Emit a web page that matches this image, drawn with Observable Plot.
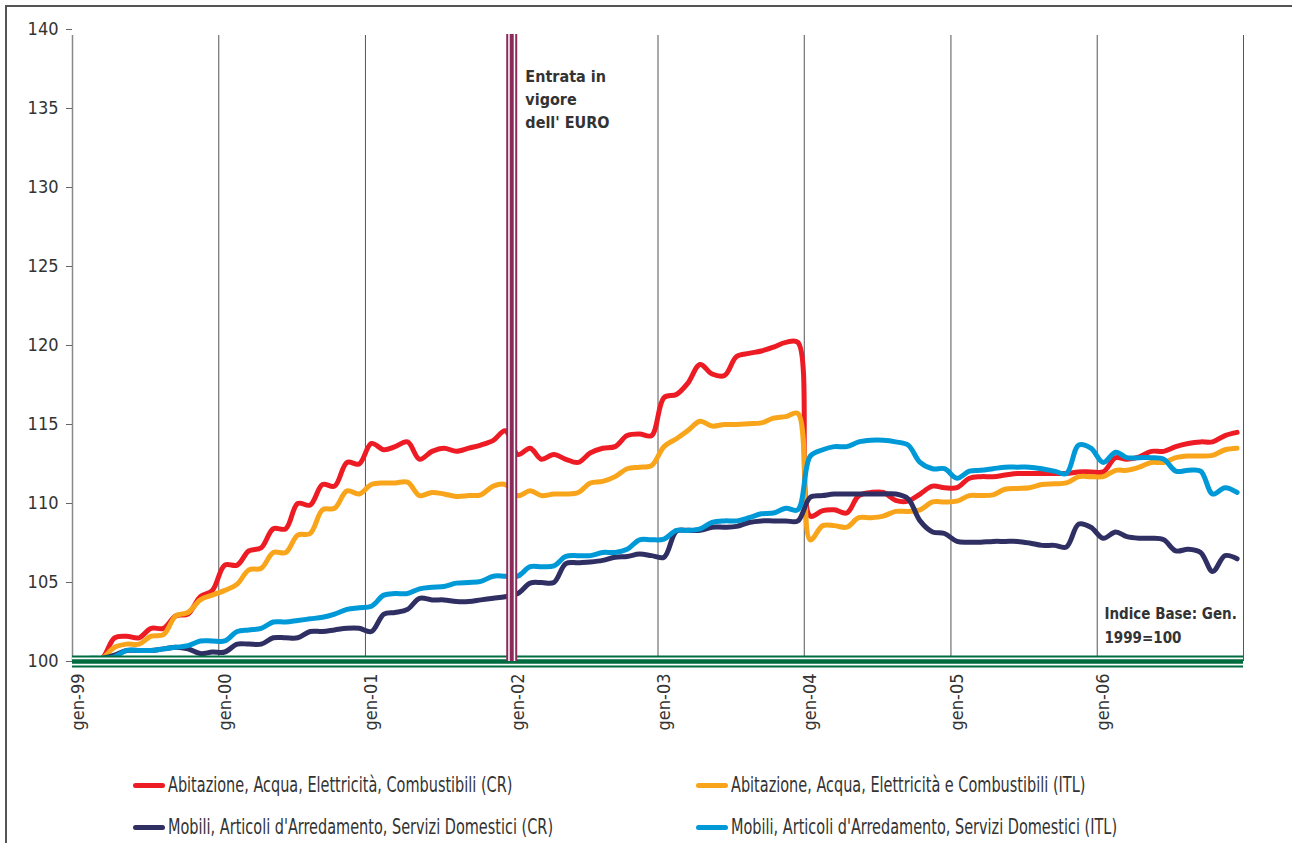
<!DOCTYPE html>
<html>
<head>
<meta charset="utf-8">
<script src="https://cdn.jsdelivr.net/npm/d3@7"></script>
<script src="https://cdn.jsdelivr.net/npm/@observablehq/plot@0.6"></script>
<style>
  html, body { margin: 0; padding: 0; background: #fff; overflow: hidden; }
  #wrap { position: relative; width: 1292px; height: 843px; font-family: "DejaVu Sans Condensed", "DejaVu Sans", sans-serif; color: #333; }
  #frame { position: absolute; left: 5px; top: 5px; width: 1287px; height: 845px; border-top: 2px solid #555; border-left: 2px solid #555; z-index: 2; pointer-events: none; }
  #chart { position: absolute; left: 0; top: 0; }
  .leg { position: absolute; height: 24px; display: flex; align-items: center; white-space: nowrap; }
  .sw { display: inline-block; width: 32px; height: 5px; border-radius: 3px; margin-right: 3px; }
  .lt { display: inline-block; font-size: 21px; transform: scaleX(0.766); transform-origin: left center; color: #333; }
</style>
</head>
<body>
<div id="wrap">
  <div id="frame"></div>
  <div id="chart"></div>
  <div id="legend"></div>
</div>
<script>
// Monthly index values, Jan 1999 .. Dec 2006 (base Jan 1999 = 100)
const startYear = 1999;
const abitazioneCR = [
  100.0, 100.0, 100.2, 101.5, 101.6, 101.5, 102.1, 102.1, 102.9, 103.0, 104.1, 104.5,
  106.1, 106.1, 107.0, 107.2, 108.4, 108.4, 110.0, 109.9, 111.2, 111.1, 112.6, 112.5,
  113.8, 113.4, 113.6, 113.9, 112.8, 113.3, 113.5, 113.3, 113.5, 113.7, 114.0, 114.6,
  113.1, 113.5, 112.8, 113.1, 112.8, 112.6, 113.2, 113.5, 113.6, 114.3, 114.4, 114.3,
  116.7, 116.9, 117.6, 118.8, 118.2, 118.1, 119.3, 119.5, 119.65, 119.9, 120.2, 120.2,
  109.2, 109.55, 109.6, 109.4, 110.5, 110.7, 110.7, 110.2, 110.15, 110.6, 111.1, 111.0,
  111.0, 111.6, 111.7, 111.7, 111.8, 111.9, 111.9, 111.9, 111.9, 111.9, 112.0, 112.0,
  112.0, 112.9, 112.8, 112.95, 113.3, 113.3, 113.6, 113.8, 113.9, 113.9, 114.3, 114.5
];
const abitazioneITL = [
  100.0, 100.0, 100.2, 100.9, 101.1, 101.1, 101.6, 101.7, 102.9, 103.1, 103.9, 104.2,
  104.5, 104.9, 105.8, 105.9, 106.9, 106.9, 108.0, 108.1, 109.6, 109.7, 110.8, 110.6,
  111.2, 111.3, 111.3, 111.35, 110.5, 110.7, 110.6, 110.45, 110.5, 110.55, 111.1, 111.2,
  110.5, 110.8, 110.5, 110.6, 110.6, 110.7, 111.3, 111.4, 111.7, 112.2, 112.3, 112.4,
  113.6, 114.1, 114.6, 115.2, 114.9, 115.0, 115.0, 115.05, 115.1, 115.4, 115.5, 115.7,
  107.7, 108.6, 108.6, 108.5, 109.1, 109.1, 109.2, 109.5, 109.5, 109.6, 110.1, 110.1,
  110.15, 110.5, 110.5, 110.55, 110.9, 110.95, 111.0, 111.2, 111.25, 111.3, 111.7, 111.7,
  111.7, 112.1, 112.1, 112.3, 112.6, 112.6, 112.9, 113.0, 113.0, 113.05, 113.4, 113.5
];
const mobiliCR = [
  100.0, 100.1, 100.2, 100.4, 100.7, 100.7, 100.7, 100.8, 100.9, 100.8, 100.5, 100.6,
  100.6, 101.1, 101.1, 101.1, 101.5, 101.5, 101.5, 101.9, 101.9, 102.0, 102.1, 102.1,
  101.9, 103.0, 103.1, 103.3, 104.0, 103.9, 103.9, 103.8, 103.8, 103.9, 104.0, 104.1,
  104.3, 104.96, 105.0, 105.0, 106.2, 106.25, 106.3, 106.4, 106.6, 106.65, 106.8, 106.7,
  106.6, 108.25, 108.3, 108.3, 108.5, 108.5, 108.55, 108.8, 108.9, 108.9, 108.9, 108.9,
  110.4, 110.5, 110.6, 110.6, 110.6, 110.6, 110.6, 110.6, 110.3, 108.9, 108.2, 108.1,
  107.6, 107.55, 107.55, 107.6, 107.6, 107.6, 107.5, 107.35, 107.35, 107.25, 108.7, 108.5,
  107.8, 108.2, 107.9, 107.8, 107.8, 107.7, 107.0, 107.1, 106.9, 105.7, 106.7, 106.5
];
const mobiliITL = [
  100.0, 100.2, 100.2, 100.3, 100.7, 100.7, 100.7, 100.8, 100.9, 101.0, 101.3, 101.3,
  101.3, 101.9, 102.0, 102.1, 102.5, 102.5, 102.6, 102.7, 102.8, 103.0, 103.3, 103.4,
  103.5, 104.2, 104.3, 104.3, 104.6, 104.7, 104.75, 104.96, 105.0, 105.07, 105.4, 105.4,
  105.4, 106.0, 106.0, 106.05, 106.65, 106.7, 106.7, 106.9, 106.9, 107.1, 107.7, 107.7,
  107.75, 108.3, 108.3, 108.4, 108.8, 108.9, 108.9, 109.1, 109.35, 109.4, 109.7, 109.6,
  113.0, 113.4, 113.6, 113.6, 113.9, 114.0, 114.0, 113.9, 113.7, 112.6, 112.2, 112.2,
  111.6, 112.05, 112.1, 112.2, 112.3, 112.3, 112.3, 112.2, 112.05, 111.9, 113.7, 113.5,
  112.6, 113.25, 112.9, 112.9, 112.9, 112.8, 112.05, 112.1, 112.05, 110.6, 111.0, 110.7
];

const seriesNames = [
  "Abitazione, Acqua, Elettricità, Combustibili (CR)",
  "Abitazione, Acqua, Elettricità e Combustibili (ITL)",
  "Mobili, Articoli d'Arredamento, Servizi Domestici (CR)",
  "Mobili, Articoli d'Arredamento, Servizi Domestici (ITL)"
];
const seriesColors = ["#ed1c24", "#f9a51b", "#2f2f63", "#0099d8"];
const seriesValues = [abitazioneCR, abitazioneITL, mobiliCR, mobiliITL];

const yTicks = [100, 105, 110, 115, 120, 125, 130, 135, 140];
const tickYears = [1999, 2000, 2001, 2002, 2003, 2004, 2005, 2006];
const gridYears = [2000, 2001, 2002, 2003, 2004, 2005, 2006, 2007];
const euroYear = 2002;
const baseValue = 100;
const euroLabel = "Entrata in\nvigore\ndell' EURO";
const baseLabel = "Indice Base: Gen.\n1999=100";

// month categories (each value sits in the middle of its month)
const monthDate = i => new Date(Date.UTC(startYear, i, 16));

const tables = seriesValues.map(vals => vals.map((v, i) => ({date: monthDate(i), value: v})));

const green = "#006b3f";
const purple = "#8c2a5c";
const gridDates = gridYears.map(y => new Date(Date.UTC(y, 0, 1)));
const labelDates = tickYears.map(y => new Date(Date.UTC(y, 0, 16)));
const euroDate = new Date(Date.UTC(euroYear, 0, 1));

const chart = Plot.plot({
  width: 1292,
  height: 745,
  marginLeft: 72,
  marginRight: 49,
  marginTop: 29,
  marginBottom: 84,
  style: {fontFamily: "'DejaVu Sans Condensed', 'DejaVu Sans', sans-serif", fontSize: "18px", color: "#333", background: "transparent"},
  x: {type: "utc", domain: [new Date(Date.UTC(startYear, 0, 1)), new Date(Date.UTC(2007, 0, 1))]},
  y: {domain: [100, 140]},
  marks: [
    Plot.ruleX(gridDates, {y1: 100, y2: 140, stroke: "#555", strokeWidth: 1, insetBottom: -6}),
    Plot.ruleX([new Date(Date.UTC(startYear, 0, 1))], {y1: 100, y2: 140, stroke: "#888", strokeWidth: 1.5, insetBottom: -6}),
    Plot.axisY({ticks: yTicks, tickSize: 6, tickPadding: 8, label: null, stroke: "#666", fontSize: 18}),
    Plot.axisX({ticks: labelDates, tickFormat: d => "gen-" + String(d.getUTCFullYear()).slice(2), tickSize: 0, tickPadding: 12, tickRotate: -90, label: null, fontSize: 18}),
    ...tables.map((t, k) => Plot.line(t, {x: "date", y: "value", stroke: seriesColors[k], strokeWidth: 5, curve: "catmull-rom"})),
    // base-index compound line (thin-thick-thin)
    Plot.ruleY([baseValue], {stroke: green, strokeWidth: 12}),
    Plot.ruleY([baseValue], {stroke: "white", strokeWidth: 8}),
    Plot.ruleY([baseValue], {stroke: green, strokeWidth: 4.5}),
    // Euro compound line
    Plot.ruleX([euroDate], {y1: 100, y2: 140, stroke: purple, strokeWidth: 11, insetBottom: -5}),
    Plot.ruleX([euroDate], {y1: 100, y2: 140, stroke: "white", strokeWidth: 7, insetBottom: -5}),
    Plot.ruleX([euroDate], {y1: 100, y2: 140, stroke: purple, strokeWidth: 4, insetBottom: -5}),
    Plot.text([euroLabel], {x: () => new Date(Date.UTC(2002, 1, 4)), y: () => 137.75, text: d => d, textAnchor: "start", lineAnchor: "top", lineHeight: 1.45, fontSize: 16, fontWeight: "bold", fill: "#333"}),
    Plot.text([baseLabel], {x: () => new Date(Date.UTC(2006, 0, 19)), y: () => 103.76, text: d => d, textAnchor: "start", lineAnchor: "top", lineHeight: 1.6, fontSize: 15, fontWeight: "bold", fill: "#333"})
  ]
});
document.getElementById("chart").appendChild(chart);

// Legend
const legendPos = [
  {left: 133, top: 773},
  {left: 696, top: 773},
  {left: 133, top: 815},
  {left: 696, top: 815}
];
const legend = document.getElementById("legend");
seriesNames.forEach((name, k) => {
  const d = document.createElement("div");
  d.className = "leg";
  d.style.left = legendPos[k].left + "px";
  d.style.top = legendPos[k].top + "px";
  const sw = document.createElement("span");
  sw.className = "sw";
  sw.style.background = seriesColors[k];
  const t = document.createElement("span");
  t.className = "lt";
  t.textContent = name;
  d.appendChild(sw);
  d.appendChild(t);
  legend.appendChild(d);
});
</script>
</body>
</html>
